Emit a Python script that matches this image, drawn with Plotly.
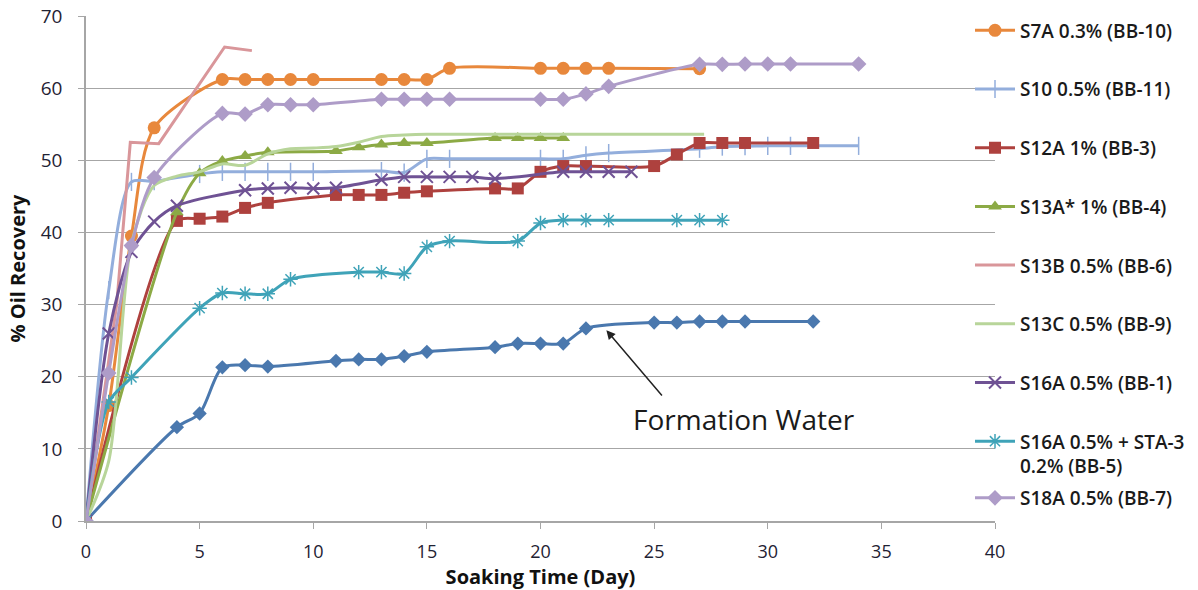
import plotly.graph_objects as go

# ---------------- data ----------------
fw_x = [0, 4, 5, 6, 7, 8, 11, 12, 13, 14, 15, 18, 19, 20, 21, 22, 25, 26, 27, 28, 29, 32]
fw_y = [0, 13.0, 14.9, 21.3, 21.6, 21.4, 22.2, 22.4, 22.4, 22.85, 23.45, 24.1, 24.6, 24.6, 24.6, 26.7, 27.5, 27.5, 27.65, 27.65, 27.65, 27.65]

s7a_x = [0, 1, 2, 3, 6, 7, 8, 9, 10, 13, 14, 15, 16, 20, 21, 22, 23, 27]
s7a_y = [0, 16, 39.5, 54.5, 61.2, 61.2, 61.2, 61.2, 61.2, 61.2, 61.2, 61.2, 62.75, 62.75, 62.75, 62.75, 62.75, 62.7]

s10_x = [0, 1, 2, 3, 5, 6, 7, 8, 9, 10, 13, 14, 15, 16, 20, 21, 22, 23, 27, 28, 29, 30, 31, 34]
s10_y = [0, 32, 47.0, 47.1, 48.1, 48.4, 48.4, 48.4, 48.4, 48.4, 48.5, 48.3, 50.2, 50.2, 50.2, 50.2, 50.7, 51.0, 51.6, 51.9, 51.95, 52.0, 52.0, 52.0]

s12a_x = [0, 4, 5, 6, 7, 8, 11, 12, 13, 14, 15, 18, 19, 20, 21, 22, 25, 26, 27, 28, 29, 32]
s12a_y = [0, 41.6, 41.9, 42.2, 43.4, 44.1, 45.2, 45.2, 45.2, 45.5, 45.7, 46.1, 46.1, 48.4, 49.2, 49.2, 49.2, 50.8, 52.4, 52.4, 52.4, 52.4]

s13a_x = [0, 4, 5, 6, 7, 8, 11, 12, 13, 14, 15, 18, 19, 20, 21]
s13a_y = [0, 42.8, 48.2, 49.9, 50.6, 51.1, 51.3, 51.8, 52.2, 52.4, 52.4, 53.1, 53.1, 53.1, 53.1]

s13b_x = [0, 1.35, 1.95, 3.2, 6.1, 7.3]
s13b_y = [0, 30, 52.5, 52.3, 65.7, 65.2]

s13c_x = [0, 1, 2, 3, 4, 5, 6, 7, 8, 9, 10, 11, 12, 13, 14, 15, 20, 27.2]
s13c_y = [0, 8.3, 38.5, 46.5, 47.8, 48.4, 49.5, 49.3, 50.9, 51.6, 51.7, 51.9, 52.5, 53.3, 53.5, 53.6, 53.6, 53.6]

s16a_x = [0, 1, 2, 3, 4, 7, 8, 9, 10, 11, 13, 14, 15, 16, 17, 18, 21, 22, 23, 24]
s16a_y = [0, 26.0, 37.3, 41.5, 43.7, 45.85, 46.1, 46.2, 46.1, 46.2, 47.3, 47.7, 47.7, 47.7, 47.7, 47.45, 48.4, 48.4, 48.4, 48.4]

s16sta_x = [0, 1, 2, 5, 6, 7, 8, 9, 12, 13, 14, 15, 16, 19, 20, 21, 22, 23, 26, 27, 28]
s16sta_y = [0, 16.5, 19.9, 29.5, 31.6, 31.5, 31.5, 33.5, 34.5, 34.5, 34.3, 38.0, 38.8, 38.8, 41.3, 41.7, 41.7, 41.7, 41.7, 41.7, 41.7]

s18a_x = [0, 1, 2, 3, 6, 7, 8, 9, 10, 13, 14, 15, 16, 20, 21, 22, 23, 27, 28, 29, 30, 31, 34]
s18a_y = [0, 20.5, 38.2, 47.6, 56.5, 56.4, 57.7, 57.7, 57.7, 58.45, 58.45, 58.45, 58.45, 58.45, 58.45, 59.2, 60.25, 63.3, 63.3, 63.35, 63.35, 63.35, 63.35]

x_ticks = [0, 5, 10, 15, 20, 25, 30, 35, 40]
y_ticks = [0, 10, 20, 30, 40, 50, 60, 70]

# ---------------- figure ----------------
fig = go.Figure()
FONT = "Open Sans"
SM = 0.8

def add(x, y, name, color, symbol=None, size=12, mline=None, legend="legend", show=True, shape="spline"):
    mode = "lines+markers" if symbol else "lines"
    marker = dict(symbol=symbol, size=size, color=color)
    if mline:
        marker["line"] = dict(color=color, width=mline)
    fig.add_trace(go.Scatter(
        x=x, y=y, name=name, mode=mode,
        line=dict(color=color, width=3, shape=shape, smoothing=SM),
        marker=marker if symbol else None,
        showlegend=show, legend=legend, legendgroup=name,
    ))

add(fw_x, fw_y, "Formation Water", "#4A78AE", "diamond", 11, show=False)
add(s7a_x, s7a_y, "S7A 0.3% (BB-10)", "#E8883C", "circle", 13)
add(s10_x, s10_y, "S10 0.5% (BB-11)", "#93AEDC", "line-ns-open", 13, mline=1.5)
add(s12a_x, s12a_y, "S12A 1% (BB-3)", "#AE413E", "square", 12)
add(s13a_x, s13a_y, "S13A* 1% (BB-4)", "#8CAA45", "triangle-up", 12)
add(s13b_x, s13b_y, "S13B 0.5% (BB-6)", "#D9969A", shape="linear")
add(s13c_x, s13c_y, "S13C 0.5% (BB-9)", "#B8D59A")
add(s16a_x, s16a_y, "S16A 0.5% (BB-1)", "#6F5294", "x-thin-open", 12, mline=2)
add(s16sta_x, s16sta_y, "S16A 0.5% + STA-3<br>0.2% (BB-5)", "#3FA3B8", "asterisk-open", 12, mline=1.5)
add(s18a_x, s18a_y, "S18A 0.5% (BB-7)", "#AE9CC8", "diamond", 12, legend="legend2")

fig.add_annotation(x=22.9, y=26.45, ax=25.4, ay=17.2, axref="x", ayref="y", xref="x", yref="y",
                   text="", showarrow=True, arrowhead=2, arrowsize=1.2, arrowwidth=1.5, arrowcolor="#222")
fig.add_annotation(x=28.96, y=14.1, xref="x", yref="y", text="Formation Water", showarrow=False,
                   font=dict(family=FONT, size=28, color="#1a1a1a"))

legfont = dict(family=FONT, size=19, color="#1a1a1a", weight=600)
fig.update_layout(
    width=1198, height=590,
    margin=dict(l=86, r=203, t=16, b=69, autoexpand=False),
    plot_bgcolor="white", paper_bgcolor="white",
    font=dict(family=FONT, color="#222"),
    legend=dict(x=0.9725, xanchor="left", y=1.009, yanchor="top",
                font=legfont, tracegroupgap=31, bgcolor="rgba(0,0,0,0)", valign="top",
                itemwidth=40, maxheight=600),
    legend2=dict(x=0.9725, xanchor="left", y=0.0455, yanchor="middle",
                 font=legfont, bgcolor="rgba(0,0,0,0)", itemwidth=40),
    xaxis=dict(range=[0, 40], tickvals=x_ticks, showgrid=False, zeroline=False, automargin=False,
               showline=True, linecolor="#A6A6A6", linewidth=1.5,
               ticks="outside", ticklen=6, tickcolor="#A6A6A6", ticklabelstandoff=8,
               tickfont=dict(family=FONT, size=18, color="#1f2233"), ticklabeloverflow="allow",
               title=dict(text="<b>Soaking Time (Day)</b>", font=dict(family=FONT, size=20, color="#111"), standoff=5)),
    yaxis=dict(range=[0, 70], tickvals=y_ticks, showgrid=True, gridcolor="#A6A6A6", gridwidth=1,
               zeroline=False, showline=True, linecolor="#A6A6A6", linewidth=1.5, automargin=False,
               ticks="outside", ticklen=6, tickcolor="#A6A6A6", ticklabelstandoff=12,
               tickfont=dict(family=FONT, size=19, color="#1f2233"), ticklabeloverflow="allow",
               title=dict(text="<b>% Oil Recovery</b>", font=dict(family=FONT, size=20, color="#111"), standoff=10)),
)

fig.write_html("out.html", config={"displayModeBar": False},
               post_script="document.body.style.margin='0';document.body.style.overflow='hidden';")
